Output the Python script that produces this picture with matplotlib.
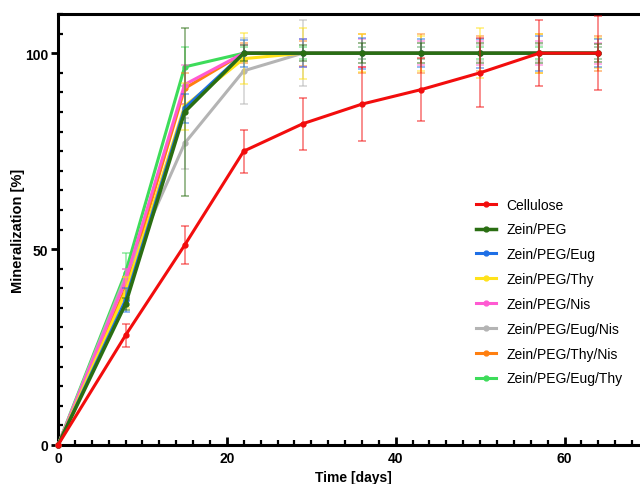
import matplotlib
matplotlib.use("Agg")
import matplotlib.pyplot as plt
from matplotlib.ticker import MultipleLocator

plt.rcParams['font.family'] = ['Liberation Sans', 'DejaVu Sans']

days = [0, 8, 15, 22, 29, 36, 43, 50, 57, 64]

labels = ["Cellulose", "Zein/PEG", "Zein/PEG/Eug", "Zein/PEG/Thy", "Zein/PEG/Nis",
          "Zein/PEG/Eug/Nis", "Zein/PEG/Thy/Nis", "Zein/PEG/Eug/Thy"]
colors = ["#f20d0d", "#2a6e12", "#1e6fe6", "#ffe21a", "#ff5ad2",
          "#b4b4b4", "#ff7f10", "#3ddc5a"]

cellulose     = [0, 28, 51, 75, 82, 87, 90.7, 95, 100, 100]
zein_peg      = [0, 36, 85, 100, 100, 100, 100, 100, 100, 100]
zein_eug      = [0, 37, 86, 100, 100, 100, 100, 100, 100, 100]
zein_thy      = [0, 39, 86.5, 98.6, 100, 100, 100, 100, 100, 100]
zein_nis      = [0, 42, 92, 100, 100, 100, 100, 100, 100, 100]
zein_eug_nis  = [0, 43, 77, 95.5, 100, 100, 100, 100, 100, 100]
zein_thy_nis  = [0, 40, 91, 100, 100, 100, 100, 100, 100, 100]
zein_eug_thy  = [0, 44, 96.5, 100, 100, 100, 100, 100, 100, 100]

err_cellulose    = [0, 3, 4.8, 5.5, 6.6, 9.4, 8, 8.8, 8.5, 9.4]
err_zein_peg     = [0, 1.5, 21.5, 2, 2, 2.5, 2.5, 2.5, 2.5, 2.3]
err_zein_eug     = [0, 3, 3.7, 3.4, 3.6, 4, 3.5, 3.7, 4.5, 3.5]
err_zein_thy     = [0, 4, 6, 6.5, 6.5, 4.8, 4.5, 6.4, 5, 3.8]
err_zein_nis     = [0, 3, 5, 2, 3.5, 3.5, 3, 3, 3, 2.7]
err_zein_eug_nis = [0, 2, 6.5, 8.5, 8.5, 1.5, 1.5, 2, 2, 1.5]
err_zein_thy_nis = [0, 3, 4, 2.5, 3.2, 5, 5, 4.5, 5, 4.5]
err_zein_eug_thy = [0, 5, 5, 1.5, 1.5, 1.5, 1.5, 1.5, 1.5, 1.5]

values = [cellulose, zein_peg, zein_eug, zein_thy, zein_nis,
          zein_eug_nis, zein_thy_nis, zein_eug_thy]
errors = [err_cellulose, err_zein_peg, err_zein_eug, err_zein_thy, err_zein_nis,
          err_zein_eug_nis, err_zein_thy_nis, err_zein_eug_thy]

fig = plt.figure(figsize=(6.4, 4.85), dpi=100)
ax = fig.add_axes([58/640, 1-446/485, (649-58)/640, (446-15)/485])

n = len(labels)
handles = []
for i in range(n):
    z = 2 + (n - i)
    ax.errorbar(days, values[i], yerr=errors[i], fmt='none', ecolor=colors[i],
                alpha=0.55, elinewidth=1.2, capsize=3, capthick=1.2, zorder=z)
    lw = 2.5 if i == 1 else 2.2
    h, = ax.plot(days, values[i], '-o', color=colors[i], lw=lw, ms=3.5,
                 label=labels[i], zorder=z + 0.5, clip_on=False)
    handles.append(h)

ax.set_xlim(0, 70)
ax.set_ylim(0, 110)
ax.xaxis.set_major_locator(MultipleLocator(20))
ax.xaxis.set_minor_locator(MultipleLocator(2))
ax.set_yticks([0, 50, 100])
ax.yaxis.set_minor_locator(MultipleLocator(5))

for s in ['left', 'bottom', 'top']:
    ax.spines[s].set_linewidth(2.2)
ax.spines['right'].set_visible(False)

ax.tick_params(axis='x', which='major', direction='in', length=6, width=2, pad=4,
               labelsize=10)
ax.tick_params(axis='x', which='minor', direction='in', length=3.5, width=1.6)
ax.tick_params(axis='y', which='major', direction='out', length=5, width=2, pad=2,
               labelsize=10)
ax.tick_params(axis='y', which='minor', direction='in', length=3.5, width=1.6)
for lab in ax.get_xticklabels() + ax.get_yticklabels():
    lab.set_fontweight('bold')

ax.set_xlabel("Time [days]", fontsize=10, fontweight='bold', labelpad=4)
ax.set_ylabel("Mineralization [%]", fontsize=10.5, fontweight='bold', labelpad=0)

leg = fig.legend(handles=handles, loc='center left',
                 bbox_to_anchor=(476/640, 1-292.5/485), frameon=False,
                 fontsize=10, handlelength=1.45, handletextpad=0.75,
                 labelspacing=0.78, borderpad=0, borderaxespad=0)

fig.savefig("out.png", dpi=100)
